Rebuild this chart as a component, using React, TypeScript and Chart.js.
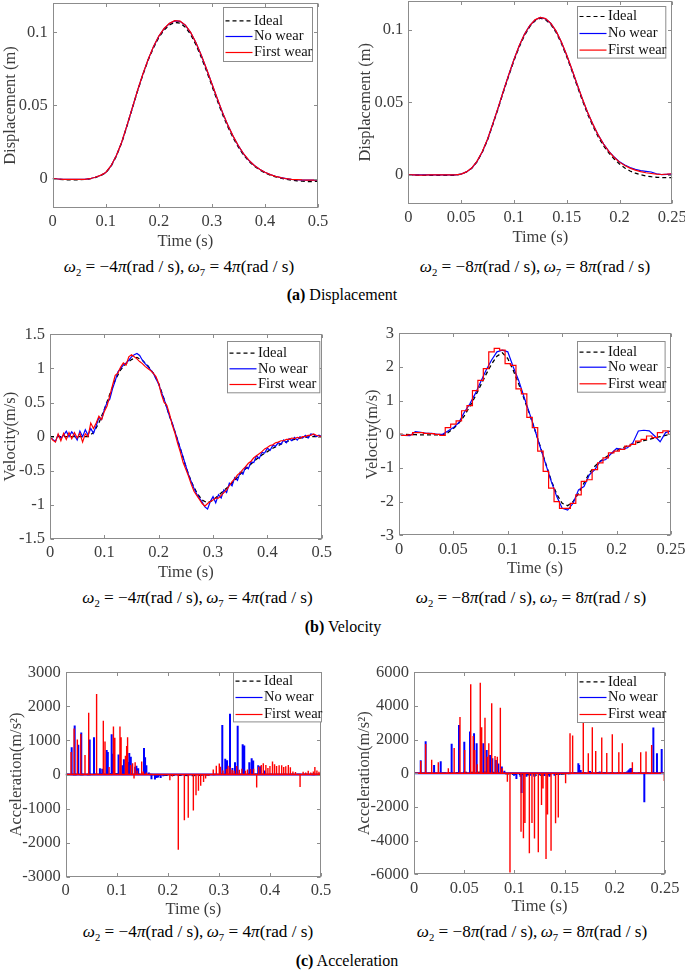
import React, { useEffect, useRef } from "react";
import { Chart, registerables } from "chart.js";
Chart.register(...registerables);

const FONT = "'Liberation Serif', 'Times New Roman', Times, serif";
const TEXT = "#3c3c3c";
const FRAME = "#8c8c8c";
const BLUE = "#0000ff";
const RED = "#ff0000";
const BLACK = "#000000";

const SERIES_NAMES = ["Ideal", "No wear", "First wear"];

// ---------- tick values / labels ----------
const xTicksLong = [0, 0.1, 0.2, 0.3, 0.4, 0.5];
const xLabelsLong = ["0", "0.1", "0.2", "0.3", "0.4", "0.5"];
const xTicksShort = [0, 0.05, 0.1, 0.15, 0.2, 0.25];
const xLabelsShort = ["0", "0.05", "0.1", "0.15", "0.2", "0.25"];
const dispYTicks = [0, 0.05, 0.1];
const dispYLabels = ["0", "0.05", "0.1"];
const velLeftYTicks = [-1.5, -1, -0.5, 0, 0.5, 1, 1.5];
const velLeftYLabels = ["-1.5", "-1", "-0.5", "0", "0.5", "1", "1.5"];
const velRightYTicks = [-3, -2, -1, 0, 1, 2, 3];
const velRightYLabels = ["-3", "-2", "-1", "0", "1", "2", "3"];
const accLeftYTicks = [-3000, -2000, -1000, 0, 1000, 2000, 3000];
const accLeftYLabels = ["-3000", "-2000", "-1000", "0", "1000", "2000", "3000"];
const accRightYTicks = [-6000, -4000, -2000, 0, 2000, 4000, 6000];
const accRightYLabels = ["-6000", "-4000", "-2000", "0", "2000", "4000", "6000"];

// ---------- sample times ----------
const grid = (step: number, count: number) =>
  Array.from({ length: count }, (_, i) => Math.round(i * step * 10000) / 10000);
const T10_LONG = grid(0.01, 51); // 0..0.5
const T5_SHORT = grid(0.005, 51); // 0..0.25
const T5_LONG = grid(0.005, 101); // 0..0.5
const T50_LONG = grid(0.05, 11);
const T25_SHORT = grid(0.025, 11);

// ---------- displacement ----------
const dispLeftIdeal = [0, -0.0003, -0.0006, -0.0008, -0.0008, -0.0007, -0.0005, -0.0001, 0.0008, 0.002,
  0.004, 0.0085, 0.0155, 0.0245, 0.036, 0.048, 0.06, 0.071, 0.081, 0.0895,
  0.0965, 0.1015, 0.105, 0.1068, 0.1062, 0.1035, 0.0985, 0.0915, 0.083, 0.0735,
  0.0635, 0.0535, 0.044, 0.0355, 0.028, 0.0215, 0.016, 0.0118, 0.0085, 0.006,
  0.004, 0.0025, 0.0013, 0.0004, -0.0004, -0.001, -0.0014, -0.0017, -0.0019, -0.0019, -0.0018];
const dispLeftNoWear = [0, -0.0002, -0.0004, -0.0005, -0.0005, -0.0005, -0.0004, 0.0, 0.001, 0.0022,
  0.0042, 0.0088, 0.0158, 0.0248, 0.0363, 0.0483, 0.0603, 0.0714, 0.0815, 0.0902,
  0.0973, 0.1025, 0.106, 0.1078, 0.1075, 0.1048, 0.0998, 0.0928, 0.0843, 0.0748,
  0.0648, 0.0548, 0.0452, 0.0366, 0.029, 0.0224, 0.0168, 0.0124, 0.009, 0.0064,
  0.0044, 0.0029, 0.0017, 0.0008, 0.0001, -0.0004, -0.0007, -0.0009, -0.001, -0.001, -0.0009];
const dispLeftFirstWear = [0, -0.0002, -0.0004, -0.0005, -0.0005, -0.0005, -0.0004, 0.0, 0.001, 0.0023,
  0.0043, 0.0089, 0.0159, 0.0249, 0.0364, 0.0484, 0.0604, 0.0715, 0.0816, 0.0903,
  0.0974, 0.1026, 0.1061, 0.1079, 0.1076, 0.1049, 0.0999, 0.0929, 0.0844, 0.0749,
  0.0649, 0.0549, 0.0453, 0.0367, 0.0291, 0.0225, 0.0169, 0.0125, 0.009, 0.0064,
  0.0044, 0.0028, 0.0016, 0.0007, 0.0, -0.0004, -0.0006, -0.0008, -0.0009, -0.0009, -0.0008];

const dispRightIdeal = [0, -0.0001, -0.0002, -0.0003, -0.0003, -0.0003, -0.0003, -0.0003, -0.0003, -0.0002,
  0.0005, 0.002, 0.0045, 0.009, 0.0155, 0.024, 0.0345, 0.0455, 0.057, 0.068,
  0.0785, 0.088, 0.096, 0.102, 0.106, 0.1078, 0.1068, 0.1035, 0.098, 0.0905,
  0.0815, 0.0715, 0.061, 0.051, 0.0415, 0.0335, 0.026, 0.02, 0.015, 0.011,
  0.0075, 0.0048, 0.0027, 0.0012, 0.0001, -0.0007, -0.0012, -0.0016, -0.0018, -0.0019, -0.0019];
const dispRightNoWear = [0, 0, 0, 0, 0, 0, 0, 0, 0, 0,
  0.0006, 0.0021, 0.0046, 0.0092, 0.0158, 0.0244, 0.035, 0.046, 0.0576, 0.0686,
  0.0792, 0.0887, 0.0967, 0.1027, 0.1066, 0.1083, 0.1074, 0.1042, 0.0988, 0.0913,
  0.0824, 0.0724, 0.062, 0.052, 0.0426, 0.0345, 0.0272, 0.0212, 0.0162, 0.0123,
  0.009, 0.0068, 0.005, 0.0038, 0.003, 0.0025, 0.002, 0.0008, 0.0002, 0.0004, 0.0006];
const dispRightFirstWear = [0, 0, -0.0001, -0.0001, 0, 0, 0, 0, 0, 0,
  0.0006, 0.0021, 0.0047, 0.0093, 0.0159, 0.0245, 0.0351, 0.0461, 0.0577, 0.0687,
  0.0793, 0.0888, 0.0968, 0.1028, 0.1067, 0.1084, 0.1075, 0.1043, 0.0989, 0.0914,
  0.0825, 0.0725, 0.0621, 0.0521, 0.0427, 0.0346, 0.0272, 0.0211, 0.016, 0.012,
  0.0088, 0.0065, 0.0047, 0.0033, 0.0023, 0.0015, 0.001, 0.0005, 0.0003, 0.0005, 0.0008];

// ---------- velocity ----------
const velLeftIdeal = [0, 0, 0, 0, 0, 0, 0, 0, 0.06, 0.2,
  0.4, 0.62, 0.83, 0.98, 1.07, 1.13, 1.16, 1.12, 1.04, 0.93,
  0.78, 0.55, 0.3, 0.07, -0.18, -0.44, -0.66, -0.82, -0.93, -0.97,
  -0.93, -0.86, -0.79, -0.72, -0.64, -0.55, -0.47, -0.4, -0.33, -0.27,
  -0.22, -0.17, -0.13, -0.09, -0.06, -0.04, -0.02, -0.01, 0, 0, 0];
const velLeftNoWear = [0, -0.04, -0.07, 0.03, -0.02, 0.02, 0.08, 0.0, 0.07, 0.02,
  -0.05, 0.08, 0.0, 0.1, 0.02, 0.12, 0.05, 0.16, 0.28, 0.25,
  0.4, 0.5, 0.55, 0.7, 0.82, 0.95, 1.0, 1.05, 1.08, 1.12,
  1.17, 1.2, 1.22, 1.19, 1.12, 1.07, 1.03, 0.98, 0.93, 0.85,
  0.77, 0.65, 0.55, 0.42, 0.3, 0.2, 0.07, -0.05, -0.18, -0.3,
  -0.43, -0.56, -0.66, -0.76, -0.84, -0.9, -0.96, -1.03, -1.06, -0.95,
  -0.88, -0.97, -0.85, -0.9, -0.78, -0.82, -0.68, -0.72, -0.6, -0.64,
  -0.52, -0.55, -0.44, -0.47, -0.37, -0.38, -0.28, -0.32, -0.23, -0.24,
  -0.17, -0.2, -0.13, -0.14, -0.09, -0.11, -0.05, -0.09, -0.03, -0.06,
  -0.01, -0.05, 0.0, -0.02, 0.02, -0.02, 0.04, 0.03, 0.0, 0.02,
  0.0];
const velLeftFirstWear = [0, -0.05, -0.08, 0.04, -0.06, 0.05, -0.04, 0.06, -0.03, 0.06,
  -0.02, 0.05, -0.08, 0.04, 0.0, 0.2, 0.12, 0.2, 0.3, 0.25,
  0.37, 0.45, 0.6, 0.75, 0.9, 0.93, 1.02, 1.08, 1.05, 1.17,
  1.2, 1.17, 1.14, 1.1, 1.07, 1.03, 1.0, 0.97, 0.93, 0.88,
  0.78, 0.62, 0.5, 0.46, 0.33, 0.17, 0.05, -0.1, -0.23, -0.38,
  -0.48, -0.58, -0.7, -0.8, -0.86, -0.92, -0.98, -1.02, -0.98, -0.95,
  -0.93, -0.9, -0.9, -0.86, -0.82, -0.78, -0.72, -0.66, -0.62, -0.56,
  -0.53, -0.48, -0.44, -0.39, -0.36, -0.31, -0.28, -0.25, -0.22, -0.18,
  -0.16, -0.13, -0.12, -0.09, -0.08, -0.06, -0.06, -0.04, -0.04, -0.02,
  -0.03, -0.01, -0.02, 0.0, 0.0, 0.02, 0.02, 0.04, 0.02, 0.01,
  0.0];

const velRightIdeal = [0, 0, -0.01, -0.01, -0.02, -0.02, -0.02, -0.02, -0.02, 0.05,
  0.17, 0.33, 0.55, 0.82, 1.12, 1.45, 1.78, 2.08, 2.32, 2.42,
  2.25, 1.9, 1.5, 1.05, 0.6, 0.12, -0.38, -0.88, -1.38, -1.78,
  -2.05, -2.12, -2.0, -1.75, -1.45, -1.15, -0.95, -0.8, -0.68, -0.57,
  -0.48, -0.41, -0.35, -0.29, -0.24, -0.19, -0.15, -0.11, -0.07, -0.03, 0.0];
const velRightNoWear = [0, -0.03, -0.04, 0.08, 0.06, 0.03, 0.03, 0.0, 0.0, 0.1,
  0.2, 0.35, 0.65, 0.9, 1.2, 1.55, 1.9, 2.2, 2.45, 2.5,
  2.45, 2.0, 1.6, 1.1, 0.62, 0.12, -0.4, -0.9, -1.4, -1.85,
  -2.2, -2.25, -2.05, -1.65, -1.55, -1.2, -1.05, -0.8, -0.75, -0.57,
  -0.42, -0.45, -0.4, -0.25, 0.1, 0.12, 0.1, -0.05, -0.22, 0.05, 0.1];
const velRightFirstWear = [0, -0.03, -0.02, 0.05, 0.05, 0.03, 0.02, 0.0, -0.03, 0.2,
  0.3, 0.4, 0.7, 0.85, 1.3, 1.6, 1.95, 2.45, 2.55, 2.5,
  2.1, 2.05, 1.35, 1.2, 0.5, 0.2, -0.5, -1.1, -1.6, -2.0,
  -2.2, -2.2, -2.05, -1.8, -1.4, -1.35, -1.05, -0.85, -0.7, -0.55,
  -0.5, -0.45, -0.35, -0.3, -0.2, -0.15, -0.05, -0.1, 0.05, 0.1, 0.0];

// ---------- acceleration (impulse spikes: [time, value]) ----------
const accLeftIdeal = [0, 0, 20, 10, -25, -30, 5, 8, 5, 2, 0];
const accLeftNoWear = [
  [0, 0], [0.0117, 800], [0.0176, 1440], [0.0247, 870], [0.0305, 1230], [0.047, 1030], [0.0554, 1090],
  [0.067, 180], [0.0716, 170], [0.0803, 720], [0.0825, 660], [0.09, 1180], [0.0918, 610], [0.1035, 590],
  [0.111, 270], [0.114, 450], [0.1212, 370], [0.1245, 630], [0.1275, 520], [0.136, 230], [0.1385, 260],
  [0.142, 180], [0.1533, 780], [0.1555, 510], [0.158, 270], [0.163, 60], [0.168, -140], [0.1748, -150],
  [0.178, -100], [0.181, -85], [0.186, -100], [0.191, -50], [0.198, 20], [0.24, -40], [0.262, -30],
  [0.3067, 1450], [0.3125, 460], [0.316, 420], [0.3218, 1780], [0.3265, 190], [0.3316, 360],
  [0.3368, 1430], [0.3466, 890], [0.3497, 850], [0.3596, 360], [0.3642, 480], [0.3672, 410],
  [0.377, 270], [0.381, 240], [0.39, 120], [0.5, 0],
];
const accLeftFirstWear = [
  [0, 0], [0.0105, 660], [0.0165, 1350], [0.0228, 1030], [0.0295, 1190], [0.0378, 575], [0.045, 1810],
  [0.0595, 800], [0.0612, 2360], [0.0737, 1580], [0.077, 970], [0.085, 220], [0.0935, 1410], [0.0962, 1080],
  [0.1063, 1410], [0.1085, 1090], [0.117, 550], [0.1194, 840], [0.1212, 1090], [0.127, 280], [0.131, 330],
  [0.1338, -120], [0.136, 360], [0.14, 120], [0.1488, 380], [0.152, 90], [0.158, 60], [0.165, 30],
  [0.204, -170], [0.209, -60], [0.2205, -2210], [0.2324, -1340], [0.24, -1270], [0.25, -1060],
  [0.2552, -610], [0.26, -480], [0.2644, -330], [0.27, -220], [0.274, -120], [0.28, -40],
  [0.289, 150], [0.295, 260], [0.3008, 320], [0.303, 230], [0.308, 120], [0.315, 160], [0.318, 260],
  [0.322, 210], [0.326, 140], [0.33, 110], [0.335, 250], [0.34, 140], [0.345, 170], [0.352, 110],
  [0.356, 150], [0.362, 160], [0.368, 170], [0.374, -380], [0.378, 230], [0.383, 280], [0.387, 330],
  [0.392, 280], [0.396, 190], [0.4, 250], [0.405, 380], [0.409, 300], [0.413, 250], [0.418, 270],
  [0.423, 270], [0.427, 220], [0.431, 240], [0.436, 280], [0.44, 210], [0.445, 90], [0.45, 70],
  [0.459, -370], [0.465, 80], [0.47, 60], [0.475, 110], [0.48, 60], [0.485, 90], [0.488, 220],
  [0.492, 120], [0.496, 80], [0.5, 0],
];

const accRightIdeal = [0, 0, 50, 70, -60, -110, -30, 40, 20, 10, 0];
const accRightNoWear = [
  [0, 0], [0.0067, 770], [0.0116, 1900], [0.02, 495], [0.0266, 710], [0.0375, 1760], [0.0448, 2870],
  [0.0501, 1880], [0.0558, 2480], [0.0598, 2380], [0.0624, 1780], [0.069, 1780], [0.0724, 1390],
  [0.0757, 1090], [0.078, 890], [0.0815, 790], [0.084, 575], [0.0875, 400], [0.09, 150],
  [0.0996, -150], [0.102, -340], [0.106, -200], [0.1072, -1170], [0.112, -200], [0.116, -150],
  [0.12, -220], [0.125, -120], [0.13, -160], [0.135, -200], [0.14, -150], [0.145, -100],
  [0.16, 80], [0.1637, 600], [0.1645, 500], [0.166, 200], [0.17, 60], [0.1753, 140], [0.185, 100],
  [0.2, 60], [0.212, 100], [0.2135, 180], [0.2145, 240], [0.2155, 300], [0.2165, 320],
  [0.2294, -1720], [0.2384, 2720], [0.242, 1190], [0.2467, 1450], [0.25, 0],
];
const accRightFirstWear = [
  [0, 0], [0.0067, 730], [0.0116, 1740], [0.0176, 810], [0.0242, 650], [0.0342, 300], [0.04, 1500],
  [0.0458, 3350], [0.0505, 1390], [0.0565, 5290], [0.059, 2220], [0.0605, 1390], [0.063, 540],
  [0.066, 5380], [0.0674, 2730], [0.0707, 3300], [0.073, 990], [0.0745, 1780], [0.0774, 4160],
  [0.0807, 1030], [0.083, 990], [0.086, 3900], [0.088, 300], [0.093, -495], [0.0956, -5900],
  [0.1066, -3470], [0.109, -3860], [0.1105, -2950], [0.1149, -4750], [0.1175, -2950], [0.12, -3880],
  [0.1238, -4690], [0.127, -1880], [0.1285, -900], [0.1315, -5090], [0.133, -2450], [0.1365, -4600],
  [0.141, -2970], [0.1437, -2630], [0.151, -590], [0.1554, 2380], [0.158, 2240], [0.1686, 3400],
  [0.1736, 1190], [0.1776, 2730], [0.181, 1330], [0.187, 2120], [0.192, 1200], [0.1975, 2320],
  [0.204, 1250], [0.2075, 1780], [0.2175, 650], [0.2258, 1250], [0.2311, 1300], [0.2367, 1680],
  [0.2493, -450], [0.25, -450],
];

// ---------- helpers ----------
const toPoints = (t: number[], v: number[]) => v.map((y, i) => ({ x: t[i], y }));
const spikePoints = (s: number[][]) =>
  [...s].sort((a, b) => a[0] - b[0]).flatMap(([t, v]) => [
    { x: t, y: 0 },
    { x: t, y: v },
    { x: t, y: 0 },
  ]);

const lineSet = (label: string, data: any[], color: string, width: number, dash: number[], order: number, stepped: any = false) => ({
  label, data, borderColor: color, backgroundColor: color, borderWidth: width, borderDash: dash,
  pointRadius: 0, tension: 0, fill: false, order, stepped,
});

const threeSets = (ideal: any[], noWear: any[], firstWear: any[], wB = 1.2, wR = 1.2, steppedRed: any = false) => [
  lineSet(SERIES_NAMES[0], ideal, BLACK, 1.3, [4, 3], 2),
  lineSet(SERIES_NAMES[1], noWear, BLUE, wB, [], 1),
  lineSet(SERIES_NAMES[2], firstWear, RED, wR, [], 0, steppedRed),
];

const specs = [
  {
    key: "dl", box: { x: 2, y: 0, w: 338, h: 250 }, plot: { L: 52.7, T: 3, R: 318, B: 208 },
    xMin: 0, xMax: 0.5, xTicks: xTicksLong, xLabels: xLabelsLong,
    yMin: -0.02, yMax: 0.12, yTicks: dispYTicks, yLabels: dispYLabels, yTitle: "Displacement (m)",
    datasets: threeSets(toPoints(T10_LONG, dispLeftIdeal), toPoints(T10_LONG, dispLeftNoWear), toPoints(T10_LONG, dispLeftFirstWear)),
    legend: { dx: 6.3, dy: 4.3, w: 89, h: 54, rows: [13.4, 29, 45] },
  },
  {
    key: "dr", box: { x: 357, y: 0, w: 328, h: 246 }, plot: { L: 408.3, T: 0.5, R: 672.3, B: 204 },
    xMin: 0, xMax: 0.25, xTicks: xTicksShort, xLabels: xLabelsShort,
    yMin: -0.02, yMax: 0.12, yTicks: dispYTicks, yLabels: dispYLabels, yTitle: "Displacement (m)",
    datasets: threeSets(toPoints(T5_SHORT, dispRightIdeal), toPoints(T5_SHORT, dispRightNoWear), toPoints(T5_SHORT, dispRightFirstWear)),
    legend: { dx: 7.3, dy: 5.2, w: 88.3, h: 51.6, rows: [10, 27, 43.6] },
  },
  {
    key: "vl", box: { x: 2, y: 320, w: 338, h: 261 }, plot: { L: 50, T: 334.3, R: 321.7, B: 539 },
    xMin: 0, xMax: 0.5, xTicks: xTicksLong, xLabels: xLabelsLong,
    yMin: -1.5, yMax: 1.5, yTicks: velLeftYTicks, yLabels: velLeftYLabels, yTitle: "Velocity(m/s)",
    datasets: threeSets(toPoints(T10_LONG, velLeftIdeal), toPoints(T5_LONG, velLeftNoWear), toPoints(T5_LONG, velLeftFirstWear)),
    legend: { dx: 2.7, dy: 6.7, w: 92.3, h: 51.3, rows: [11.7, 27.3, 43] },
  },
  {
    key: "vr", box: { x: 364, y: 320, w: 321, h: 257 }, plot: { L: 399, T: 333.3, R: 671, B: 535.3 },
    xMin: 0, xMax: 0.25, xTicks: xTicksShort, xLabels: xLabelsShort,
    yMin: -3, yMax: 3, yTicks: velRightYTicks, yLabels: velRightYLabels, yTitle: "Velocity(m/s)",
    datasets: threeSets(toPoints(T5_SHORT, velRightIdeal), toPoints(T5_SHORT, velRightNoWear), toPoints(T5_SHORT, velRightFirstWear), 1.2, 1.2, "middle"),
    legend: { dx: 6.7, dy: 7.7, w: 87.6, h: 50.7, rows: [10.7, 25.7, 42.3] },
  },
  {
    key: "al", box: { x: 8, y: 660, w: 332, h: 258 }, plot: { L: 65.7, T: 672.3, R: 321, B: 876.7 },
    xMin: 0, xMax: 0.5, xTicks: xTicksLong, xLabels: xLabelsLong,
    yMin: -3000, yMax: 3000, yTicks: accLeftYTicks, yLabels: accLeftYLabels, yTitle: "Acceleration(m/s\u00B2)",
    datasets: threeSets(toPoints(T50_LONG, accLeftIdeal), spikePoints(accLeftNoWear), spikePoints(accLeftFirstWear), 2, 1.4),
    legend: { dx: 0.3, dy: 0, w: 88, h: 49.4, rows: [8.7, 25, 42] },
  },
  {
    key: "ar", box: { x: 356, y: 660, w: 329, h: 255 }, plot: { L: 414, T: 672.3, R: 665, B: 874.3 },
    xMin: 0, xMax: 0.25, xTicks: xTicksShort, xLabels: xLabelsShort,
    yMin: -6000, yMax: 6000, yTicks: accRightYTicks, yLabels: accRightYLabels, yTitle: "Acceleration(m/s\u00B2)",
    datasets: threeSets(toPoints(T25_SHORT, accRightIdeal), spikePoints(accRightNoWear), spikePoints(accRightFirstWear), 2, 1.4),
    legend: { dx: 0.7, dy: 0, w: 87, h: 50, rows: [9.4, 25, 42] },
  },
];

const subtitles = [
  { x: 179, y: 267, k: "4" },
  { x: 535, y: 267, k: "8" },
  { x: 197.5, y: 598, k: "4" },
  { x: 531, y: 598, k: "8" },
  { x: 198, y: 932, k: "4" },
  { x: 532, y: 932, k: "8" },
];
const captions = [
  { x: 342, y: 295, tag: "(a)", text: "Displacement" },
  { x: 343, y: 627, tag: "(b)", text: "Velocity" },
  { x: 347, y: 961, tag: "(c)", text: "Acceleration" },
];

// ---------- frame / legend plugin ----------
const framePlugin = {
  id: "frame",
  afterDraw(chart: any, _args: any, opts: any) {
    const { ctx, chartArea: a, scales } = chart;
    const l = Math.round(a.left) + 0.5, r = Math.round(a.right) - 0.5;
    const t = Math.round(a.top) + 0.5, b = Math.round(a.bottom) - 0.5;
    ctx.save();
    ctx.strokeStyle = FRAME;
    ctx.lineWidth = 1;
    ctx.setLineDash([]);
    ctx.strokeRect(l, t, r - l, b - t);
    const TL = 3.5;
    ctx.beginPath();
    for (const v of opts.xTicks) {
      const px = Math.round(scales.x.getPixelForValue(v)) + 0.5;
      ctx.moveTo(px, b); ctx.lineTo(px, b - TL);
      ctx.moveTo(px, t); ctx.lineTo(px, t + TL);
    }
    for (const v of opts.yTicks) {
      const py = Math.round(scales.y.getPixelForValue(v)) + 0.5;
      ctx.moveTo(l, py); ctx.lineTo(l + TL, py);
      ctx.moveTo(r, py); ctx.lineTo(r - TL, py);
    }
    ctx.stroke();

    const lg = opts.legend;
    const bx = Math.round(a.right - lg.dx - lg.w) + 0.5;
    const by = Math.round(a.top + lg.dy) + 0.5;
    ctx.fillStyle = "#ffffff";
    ctx.fillRect(bx, by, lg.w, lg.h);
    ctx.strokeStyle = FRAME;
    ctx.strokeRect(bx, by, lg.w, lg.h);
    chart.data.datasets.slice(0, 3).forEach((ds: any, i: number) => {
      const y = by + lg.rows[i];
      ctx.setLineDash(ds.borderDash || []);
      ctx.strokeStyle = ds.borderColor;
      ctx.lineWidth = 1.2;
      ctx.beginPath();
      ctx.moveTo(bx + 2, y);
      ctx.lineTo(bx + 29, y);
      ctx.stroke();
      ctx.setLineDash([]);
      ctx.fillStyle = "#111111";
      ctx.font = `14.5px ${FONT}`;
      ctx.textBaseline = "middle";
      ctx.textAlign = "left";
      ctx.fillText(ds.label, bx + 30.5, y);
    });
    ctx.restore();
  },
};

function buildConfig(spec: any): any {
  const Wy = spec.plot.L - spec.box.x;
  const Hx = spec.box.y + spec.box.h - spec.plot.B;
  const padTop = spec.plot.T - spec.box.y;
  const padRight = spec.box.x + spec.box.w - spec.plot.R;
  const tickFont = { family: FONT, size: 16.5, lineHeight: 1.2 };
  const titleFont = { family: FONT, size: 16.5, lineHeight: 1 };
  return {
    type: "line",
    data: { datasets: spec.datasets },
    options: {
      responsive: false,
      maintainAspectRatio: false,
      animation: false,
      events: [],
      layout: { padding: { left: 0, top: padTop, right: padRight, bottom: 0 } },
      plugins: {
        legend: { display: false },
        tooltip: { enabled: false },
        frame: { legend: spec.legend, xTicks: spec.xTicks, yTicks: spec.yTicks },
      },
      scales: {
        x: {
          type: "linear", min: spec.xMin, max: spec.xMax, offset: false,
          grid: { display: false, drawTicks: false }, border: { display: false },
          ticks: {
            color: TEXT, font: tickFont, padding: 4, maxRotation: 0, minRotation: 0, autoSkip: false,
            callback: (_v: any, i: number) => spec.xLabels[i],
          },
          afterBuildTicks: (s: any) => { s.ticks = spec.xTicks.map((value: number) => ({ value })); },
          afterFit: (s: any) => { s.height = Hx; s.paddingLeft = 0; s.paddingRight = 0; },
          title: { display: true, text: "Time (s)", color: TEXT, font: titleFont, padding: 0 },
        },
        y: {
          type: "linear", min: spec.yMin, max: spec.yMax,
          grid: { display: false, drawTicks: false }, border: { display: false },
          ticks: {
            color: TEXT, font: tickFont, padding: 5, autoSkip: false,
            callback: (_v: any, i: number) => spec.yLabels[i],
          },
          afterBuildTicks: (s: any) => { s.ticks = spec.yTicks.map((value: number) => ({ value })); },
          afterFit: (s: any) => { s.width = Wy; s.paddingTop = 0; s.paddingBottom = 0; },
          title: { display: true, text: spec.yTitle, color: TEXT, font: titleFont, padding: 0 },
        },
      },
    },
    plugins: [framePlugin],
  };
}

function ChartPanel({ spec }: { spec: any }) {
  const ref = useRef<HTMLCanvasElement>(null);
  useEffect(() => {
    const chart = new Chart(ref.current as HTMLCanvasElement, buildConfig(spec));
    return () => chart.destroy();
  }, [spec]);
  return (
    <canvas
      ref={ref}
      width={spec.box.w}
      height={spec.box.h}
      style={{ position: "absolute", left: spec.box.x, top: spec.box.y, width: spec.box.w, height: spec.box.h }}
    />
  );
}

const subStyle: React.CSSProperties = { fontSize: "0.62em", verticalAlign: "-0.3em", lineHeight: 0 };

function Subtitle({ x, y, k }: { x: number; y: number; k: string }) {
  return (
    <div
      style={{
        position: "absolute", left: x, top: y, transform: "translate(-50%, -50%)",
        whiteSpace: "nowrap", fontSize: 17.2, lineHeight: 1, color: "#000", fontFamily: FONT,
      }}
    >
      <i>ω</i><sub style={subStyle}>2</sub> = −{k}<i>π</i>(rad / s),{"\u2009"}<i>ω</i><sub style={subStyle}>7</sub> = {k}<i>π</i>(rad / s)
    </div>
  );
}

function Caption({ x, y, tag, text }: { x: number; y: number; tag: string; text: string }) {
  return (
    <div
      style={{
        position: "absolute", left: x, top: y, transform: "translate(-50%, -50%)",
        whiteSpace: "nowrap", fontSize: 16, lineHeight: 1, color: "#000", fontFamily: FONT,
      }}
    >
      <b>{tag}</b> {text}
    </div>
  );
}

export default function App() {
  return (
    <div style={{ position: "absolute", left: 0, top: 0, width: 685, height: 973, background: "#fff", overflow: "hidden" }}>
      {specs.map((s) => (
        <ChartPanel key={s.key} spec={s} />
      ))}
      {subtitles.map((s, i) => (
        <Subtitle key={i} x={s.x} y={s.y} k={s.k} />
      ))}
      {captions.map((c, i) => (
        <Caption key={i} x={c.x} y={c.y} tag={c.tag} text={c.text} />
      ))}
    </div>
  );
}
